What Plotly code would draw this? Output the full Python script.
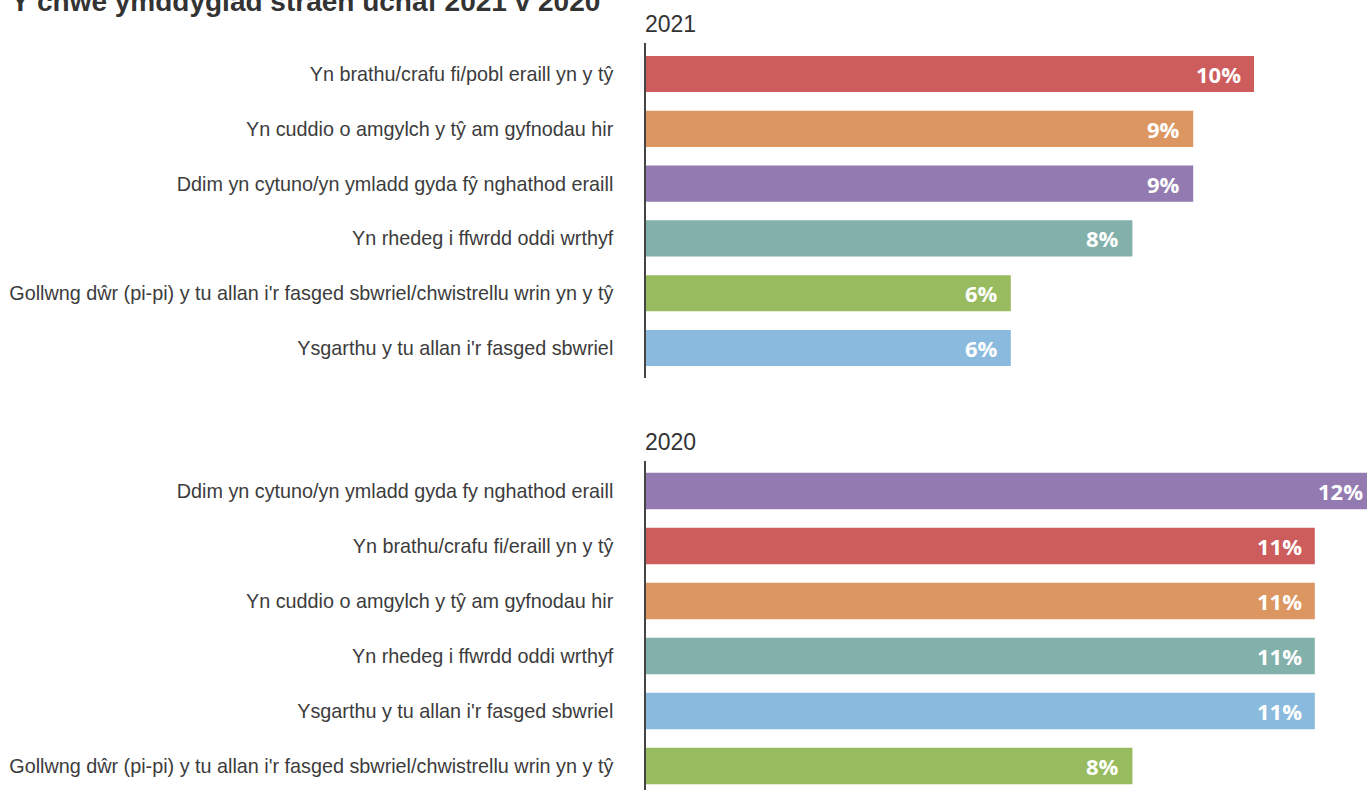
import plotly.graph_objects as go
from plotly.subplots import make_subplots

title_text = "Y chwe ymddygiad straen uchaf 2021 v 2020<sup>52</sup>"

years = ["2021", "2020"]

cats_2021 = [
    "Yn brathu/crafu fi/pobl eraill yn y tŷ",
    "Yn cuddio o amgylch y tŷ am gyfnodau hir",
    "Ddim yn cytuno/yn ymladd gyda fŷ nghathod eraill",
    "Yn rhedeg i ffwrdd oddi wrthyf",
    "Gollwng dŵr (pi-pi) y tu allan i'r fasged sbwriel/chwistrellu wrin yn y tŷ",
    "Ysgarthu y tu allan i'r fasged sbwriel",
]
vals_2021 = [10, 9, 9, 8, 6, 6]
colors_2021 = ["#CD5C5C", "#DC9662", "#937BB2", "#82B0AA", "#97BB5E", "#8ABBDE"]

cats_2020 = [
    "Ddim yn cytuno/yn ymladd gyda fy nghathod eraill",
    "Yn brathu/crafu fi/eraill yn y tŷ",
    "Yn cuddio o amgylch y tŷ am gyfnodau hir",
    "Yn rhedeg i ffwrdd oddi wrthyf",
    "Ysgarthu y tu allan i'r fasged sbwriel",
    "Gollwng dŵr (pi-pi) y tu allan i'r fasged sbwriel/chwistrellu wrin yn y tŷ",
]
vals_2020 = [12, 11, 11, 11, 11, 8]
colors_2020 = ["#937BB2", "#CD5C5C", "#DC9662", "#82B0AA", "#8ABBDE", "#97BB5E"]

W, H = 1367, 790
PX_PER_UNIT = 60.8
LABEL_GAP = 11 / PX_PER_UNIT  # label inset from bar end, in axis units

fig = make_subplots(rows=2, cols=1)

panels = [(cats_2021, vals_2021, colors_2021), (cats_2020, vals_2020, colors_2020)]
for i, (cats, vals, cols) in enumerate(panels, start=1):
    fig.add_trace(go.Bar(
        x=vals, y=cats, orientation="h",
        marker=dict(color=cols, line=dict(width=0)),
        width=0.66, hoverinfo="skip", showlegend=False,
    ), row=i, col=1)
    yref = "y" if i == 1 else "y2"
    xref = "x" if i == 1 else "x2"
    for c, v in zip(cats, vals):
        fig.add_annotation(
            x=v, y=c, xref=xref, yref=yref, text=f"{v}%",
            showarrow=True, axref=xref, ax=v - LABEL_GAP, ayref="pixel", ay=0,
            arrowcolor="rgba(0,0,0,0)", arrowwidth=0.1,
            xanchor="right", yanchor="middle",
            font=dict(family="Open Sans", size=22, color="white", weight="bold"),
        )

x0 = 646 / W
xaxis_common = dict(domain=[x0, 1], range=[0, (W - 646) / PX_PER_UNIT],
                    visible=False, fixedrange=True)
fig.update_layout(xaxis=xaxis_common, xaxis2=xaxis_common)

yaxis_common = dict(
    type="category", showline=True, linecolor="#444", linewidth=1.5,
    showgrid=False, zeroline=False, ticks="", ticklabelstandoff=27,
    tickfont=dict(family="Liberation Sans, Arial", size=19.8, color="#3c3c3c"),
    automargin=False, fixedrange=True,
)
fig.update_layout(
    yaxis=dict(yaxis_common, domain=[1 - 378 / H, 1 - 43 / H], range=[5.547, -0.566]),
    yaxis2=dict(yaxis_common, domain=[0, 1 - 461 / H], range=[5.436, -0.545]),
)

for yr, ypx in zip(years, [24, 442]):
    fig.add_annotation(
        x=643 / W, y=1 - ypx / H, xref="paper", yref="paper", text=yr,
        xanchor="left", yanchor="middle", showarrow=False,
        font=dict(family="Liberation Sans, Arial", size=23, color="#333"),
    )

fig.add_annotation(
    x=9 / W, y=1 - 19 / H, xref="paper", yref="paper", text=title_text,
    xanchor="left", yanchor="bottom", showarrow=False,
    font=dict(family="Liberation Sans, Arial", size=28, color="#333", weight="bold"),
)

fig.update_layout(
    width=W, height=H, margin=dict(l=0, r=0, t=0, b=0),
    paper_bgcolor="white", plot_bgcolor="white",
)

fig.write_html(
    "out.html",
    config={"displayModeBar": False},
    post_script="document.body.style.margin='0';document.body.style.overflow='hidden';",
)
